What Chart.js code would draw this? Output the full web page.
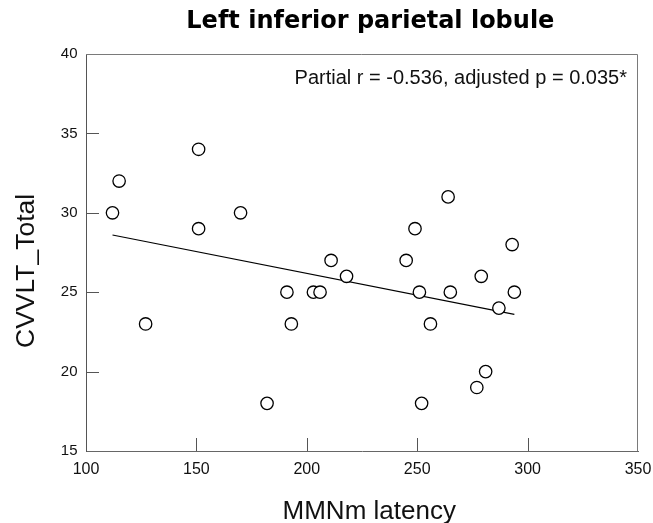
<!DOCTYPE html>
<html><head><meta charset="utf-8">
<script src="https://cdn.jsdelivr.net/npm/chart.js@4"></script>
<style>html,body{margin:0;padding:0;background:#fff}#wrap{width:653px;height:523px;position:relative}</style>
</head><body><div id="wrap"><canvas id="c"></canvas></div>
<script>
const latency = [112,115,127,151,151,170,182,191,193,203,206,211,218,245,249,251,252,256,264,265,277,279,281,287,293,294];
const cvvlt   = [30, 32, 23, 34, 29, 30, 18, 25, 23, 25, 25, 27, 26, 27, 29, 25, 18, 23, 31, 25, 19, 26, 20, 24, 28, 25];
const fitX = [112, 294];
const fitY = [28.6, 23.6];
const xTicks = [100,150,200,250,300,350];
const yTicks = [15,20,25,30,35,40];
const titleText = 'Left inferior parietal lobule';
const xLabel = 'MMNm latency';
const yLabel = 'CVVLT_Total';
const statText = 'Partial r = -0.536, adjusted p = 0.035*';

const framePlugin = {
  id: 'frame',
  beforeDatasetsDraw(chart) {
    const {ctx, chartArea: a, scales} = chart;
    ctx.save();
    ctx.strokeStyle = '#7a7a7a';
    ctx.lineWidth = 1;
    ctx.beginPath();
    ctx.moveTo(a.left, a.top + 0.5);
    ctx.lineTo(a.right - 0.5, a.top + 0.5);
    ctx.lineTo(a.right - 0.5, a.bottom);
    ctx.stroke();
    // inward tick marks (inner ticks only; end ticks coincide with the frame)
    ctx.strokeStyle = '#555';
    ctx.beginPath();
    xTicks.slice(1, -1).forEach(v => {
      const px = Math.round(scales.x.getPixelForValue(v)) + 0.5;
      ctx.moveTo(px, a.bottom);
      ctx.lineTo(px, a.bottom - 13);
    });
    yTicks.slice(1, -1).forEach(v => {
      const py = Math.round(scales.y.getPixelForValue(v)) + 0.5;
      ctx.moveTo(a.left, py);
      ctx.lineTo(a.left + 13, py);
    });
    ctx.stroke();
    ctx.restore();
  },
  afterDraw(chart) {
    const {ctx, chartArea: a} = chart;
    ctx.save();
    ctx.font = '20px "Liberation Sans", Arial, sans-serif';
    ctx.fillStyle = '#111';
    ctx.textAlign = 'right';
    ctx.textBaseline = 'alphabetic';
    ctx.fillText(statText, a.right - 11, a.top + 30);
    ctx.restore();
  }
};

new Chart(document.getElementById('c'), {
  type: 'scatter',
  data: {
    datasets: [
      {
        type: 'scatter',
        data: latency.map((x, i) => ({x, y: cvvlt[i]})),
        pointRadius: 6.2,
        pointHoverRadius: 6.2,
        pointBorderWidth: 1.3,
        pointBackgroundColor: '#fff',
        pointBorderColor: '#000',
        order: 0
      },
      {
        type: 'line',
        data: fitX.map((x, i) => ({x, y: fitY[i]})),
        borderColor: '#000',
        borderWidth: 1.2,
        pointRadius: 0,
        fill: false,
        order: 1
      }
    ]
  },
  options: {
    responsive: true,
    maintainAspectRatio: false,
    animation: false,
    devicePixelRatio: 1,
    layout: {padding: 0},
    plugins: {
      legend: {display: false},
      tooltip: {enabled: false},
      title: {
        display: true,
        fullSize: false,
        text: '  ' + titleText,
        color: '#000',
        font: {family: 'DejaVu Sans', weight: 'bold', size: 24, lineHeight: 1.2},
        padding: {top: 7, bottom: 18.2}
      }
    },
    scales: {
      x: {
        type: 'linear',
        min: xTicks[0],
        max: xTicks[xTicks.length - 1],
        afterBuildTicks: s => { s.ticks = xTicks.map(v => ({value: v})); },
        afterFit: s => { s.height = 72; s.paddingRight = 15; s.paddingLeft = 0; },
        grid: {drawOnChartArea: false, drawTicks: false},
        border: {display: true, color: '#666', width: 1},
        ticks: {font: {family: 'Liberation Sans', size: 16}, color: '#111', padding: 9, maxRotation: 0, autoSkip: false},
        title: {display: true, text: '  ' + xLabel, color: '#111', font: {family: 'Liberation Sans', size: 26, lineHeight: 1}, padding: {top: 0, bottom: -1.5}}
      },
      y: {
        type: 'linear',
        min: yTicks[0],
        max: yTicks[yTicks.length - 1],
        afterBuildTicks: s => { s.ticks = yTicks.map(v => ({value: v})); },
        afterFit: s => { s.width = 86; },
        grid: {drawOnChartArea: false, drawTicks: false},
        border: {display: true, color: '#555', width: 1},
        ticks: {font: {family: 'Liberation Sans', size: 15}, color: '#111', padding: 8.5, autoSkip: false},
        title: {display: true, text: yLabel + '     ', color: '#111', font: {family: 'Liberation Sans', size: 26.5, lineHeight: 1}, padding: {top: 13, bottom: 0}}
      }
    }
  },
  plugins: [framePlugin]
});
</script>
</body></html>
